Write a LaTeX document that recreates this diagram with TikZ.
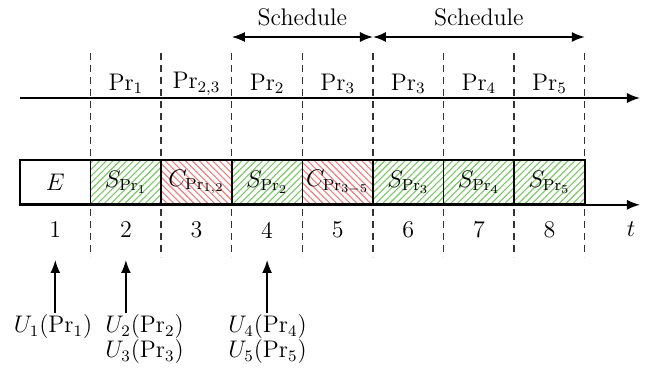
\documentclass[tikz,border=0pt]{standalone}
\usetikzlibrary{arrows.meta,patterns.meta}
\definecolor{hgreen}{RGB}{120,200,100}
\definecolor{hred}{RGB}{240,125,125}
\begin{document}
\begin{tikzpicture}[x=0.5pt,y=-0.5pt,
  font=\fontsize{12}{14.4}\selectfont,
  tip/.style={},
  ax/.style={line width=0.8pt,-{Latex[length=6.5pt,width=5pt]}},
  dax/.style={line width=0.8pt,{Latex[length=6.5pt,width=5pt]}-{Latex[length=6.5pt,width=5pt]}},
  gridline/.style={dash pattern=on 3.5pt off 2.5pt,line width=0.7pt,black!80},
  cell/.style={draw,line width=0.8pt,minimum width=35.3pt,minimum height=22pt,inner sep=0pt,anchor=center},
  sg/.style={cell,pattern={Lines[angle=45,distance=2.4pt,line width=0.55pt]},pattern color=hgreen},
  sr/.style={cell,pattern={Lines[angle=-45,distance=2.4pt,line width=0.55pt]},pattern color=hred},
  lbl/.style={inner sep=1pt}]
\useasboundingbox (0,0) rectangle (645,369);
% dashed grid lines
\foreach \i/\x in {1/90.6,2/161.2,3/231.8,4/302.4,5/373,6/443.6,7/514.2,8/584.8}{
  \coordinate (g\i t) at (\x,53);
  \coordinate (g\i b) at (\x,257);
  \draw[gridline] (g\i t) -- (g\i b);
}
% top axis
\coordinate (ts) at (20,98);
\coordinate (te) at (640,98);
\draw[ax] (ts) -- (te);
% schedule arrows
\coordinate (s1a) at (231.8,37);
\coordinate (s1b) at (373,37);
\coordinate (s2a) at (373,37);
\coordinate (s2b) at (584.8,37);
\draw[dax] (s1a) -- (s1b);
\draw[dax] (s2a) -- (s2b);
\node[lbl] (sch1) at (302.4,17) {Schedule};
\node[lbl] (sch2) at (478.9,17) {Schedule};
% process labels
\node[lbl] (p2) at (125.9,84) {$\mathrm{Pr}_1$};
\node[lbl] (p3) at (196.5,84) {$\mathrm{Pr}_{2,3}$};
\node[lbl] (p4) at (267.1,84) {$\mathrm{Pr}_2$};
\node[lbl] (p5) at (337.7,84) {$\mathrm{Pr}_3$};
\node[lbl] (p6) at (408.3,84) {$\mathrm{Pr}_3$};
\node[lbl] (p7) at (478.9,84) {$\mathrm{Pr}_4$};
\node[lbl] (p8) at (549.5,84) {$\mathrm{Pr}_5$};
% cells
\node[cell,fill=white] (c1) at (55.3,182) {$E$};
\node[sg] (c2) at (125.9,182) {$S_{\mathrm{Pr}_1}$};
\node[sr] (c3) at (196.5,182) {$C_{\mathrm{Pr}_{1,2}}$};
\node[sg] (c4) at (267.1,182) {$S_{\mathrm{Pr}_2}$};
\node[sr] (c5) at (337.7,182) {$C_{\mathrm{Pr}_{3{-}5}}$};
\node[sg] (c6) at (408.3,182) {$S_{\mathrm{Pr}_3}$};
\node[sg] (c7) at (478.9,182) {$S_{\mathrm{Pr}_4}$};
\node[sg] (c8) at (549.5,182) {$S_{\mathrm{Pr}_5}$};
% bottom axis
\coordinate (be) at (640,204);
\draw[ax] (c1.south west) -- (c1.south west -| be);
% numbers
\foreach \i/\x in {1/55.3,2/125.9,3/196.5,4/267.1,5/337.7,6/408.3,7/478.9,8/549.5}{
  \node[lbl] (n\i) at (\x,230) {\i};
}
\node[lbl] (tl) at (631,229) {$t$};
% update labels
\node[lbl] (u1) at (53,327) {$U_1(\mathrm{Pr}_1)$};
\node[lbl,anchor=west] (u2) at (103,327) {$U_2(\mathrm{Pr}_2)$};
\node[lbl,anchor=west] (u3) at (103,352) {$U_3(\mathrm{Pr}_3)$};
\node[lbl,anchor=west] (u4) at (226,327) {$U_4(\mathrm{Pr}_4)$};
\node[lbl,anchor=west] (u5) at (226,352) {$U_5(\mathrm{Pr}_5)$};
\coordinate (a1) at (55.3,260);
\coordinate (a2) at (125.9,260);
\coordinate (a4) at (267.1,260);
\draw[ax] (a1 |- u1.north) -- (a1);
\draw[ax] (a2 |- u2.north) -- (a2);
\draw[ax] (a4 |- u4.north) -- (a4);
\end{tikzpicture}
\end{document}
